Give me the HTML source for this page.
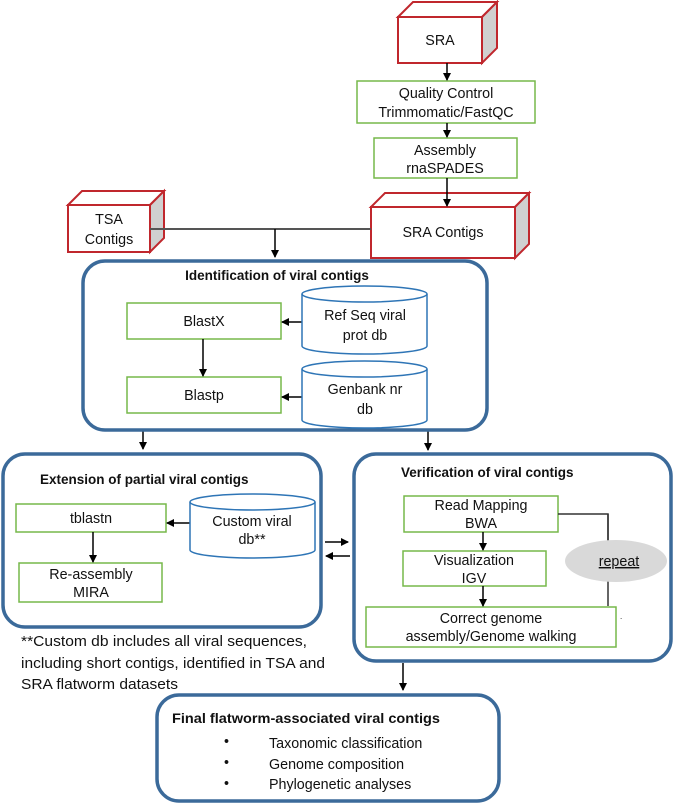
<!DOCTYPE html>
<html><head><meta charset="utf-8"><style>
html,body{margin:0;padding:0;background:#fff}
svg{display:block}
text{font-family:"Liberation Sans",sans-serif;font-size:14.3px;fill:#111}
.b{font-weight:bold;font-size:13.5px}
</style></head><body>
<svg width="675" height="805" viewBox="0 0 675 805" xmlns="http://www.w3.org/2000/svg">
<defs>
<marker id="ah" markerWidth="8" markerHeight="8" refX="7" refY="4" orient="auto" markerUnits="userSpaceOnUse">
<path d="M0,0 L8,4 L0,8 z" fill="#000"/></marker>
</defs>
<g stroke="#c0272d" stroke-width="2" fill="#fff">
<rect x="398" y="17" width="84" height="46"/>
<path d="M398,17 L413,2 L497,2 L482,17 z"/>
<path d="M482,17 L497,2 L497,48 L482,63 z" fill="#d0d0d0"/>
<rect x="68" y="205" width="82" height="47"/>
<path d="M68,205 L82,191 L164,191 L150,205 z"/>
<path d="M150,205 L164,191 L164,238 L150,252 z" fill="#d0d0d0"/>
<rect x="371" y="207" width="144" height="51"/>
<path d="M371,207 L385,193 L529,193 L515,207 z"/>
<path d="M515,207 L529,193 L529,244 L515,258 z" fill="#d0d0d0"/>
</g>
<text x="440" y="45" text-anchor="middle">SRA</text>
<text x="109" y="224" text-anchor="middle">TSA</text>
<text x="109" y="244" text-anchor="middle">Contigs</text>
<text x="443" y="237" text-anchor="middle">SRA Contigs</text>

<g stroke="#77b84a" stroke-width="1.5" fill="#fff">
<rect x="357" y="81" width="178" height="42"/>
<rect x="374" y="138" width="143" height="40"/>
<rect x="127" y="303" width="154" height="36"/>
<rect x="127" y="377" width="154" height="36"/>
<rect x="16" y="504" width="150" height="28"/>
<rect x="19" y="563" width="143" height="39"/>
<rect x="404" y="496" width="154" height="36"/>
<rect x="403" y="551" width="143" height="35"/>
<rect x="366" y="607" width="250" height="40"/>
</g>
<text x="446" y="98" text-anchor="middle">Quality Control</text>
<text x="446" y="117" text-anchor="middle">Trimmomatic/FastQC</text>
<text x="445" y="155" text-anchor="middle">Assembly</text>
<text x="445" y="173" text-anchor="middle">rnaSPADES</text>

<g stroke="#000" stroke-width="1.5" fill="none">
<line x1="447" y1="63" x2="447" y2="80" marker-end="url(#ah)"/>
<line x1="447" y1="123" x2="447" y2="137" marker-end="url(#ah)"/>
<line x1="447" y1="178" x2="447" y2="206" marker-end="url(#ah)"/>
<line x1="150" y1="229" x2="371" y2="229" stroke="#555" stroke-width="2"/>
<line x1="275" y1="229" x2="275" y2="257" marker-end="url(#ah)"/>
<line x1="143" y1="430" x2="143" y2="449" marker-end="url(#ah)"/>
<line x1="428" y1="430" x2="428" y2="450" marker-end="url(#ah)"/>
<line x1="302" y1="322" x2="282" y2="322" marker-end="url(#ah)"/>
<line x1="302" y1="397" x2="282" y2="397" marker-end="url(#ah)"/>
<line x1="203" y1="339" x2="203" y2="376" marker-end="url(#ah)"/>
<line x1="190" y1="523" x2="167" y2="523" marker-end="url(#ah)"/>
<line x1="93" y1="532" x2="93" y2="562" marker-end="url(#ah)"/>
<line x1="325" y1="542" x2="348" y2="542" marker-end="url(#ah)"/>
<line x1="350" y1="556" x2="326" y2="556" marker-end="url(#ah)"/>
<line x1="483" y1="532" x2="483" y2="550" marker-end="url(#ah)"/>
<line x1="483" y1="586" x2="483" y2="606" marker-end="url(#ah)"/>
<polyline points="558,514 608,514 608,606" stroke="#333"/>
<line x1="403" y1="663" x2="403" y2="690" marker-end="url(#ah)"/>
</g>

<g stroke="#3b6a9a" stroke-width="3.5" fill="none">
<rect x="83" y="261" width="404" height="169" rx="22"/>
<rect x="3" y="454" width="318" height="173" rx="22"/>
<rect x="354" y="454" width="317" height="207" rx="22"/>
<rect x="157" y="695" width="342" height="106" rx="22"/>
</g>

<g stroke="#2e75b6" stroke-width="1.5" fill="#fff">
<path d="M302,294 A62.5,8 0 0 1 427,294 L427,346 A62.5,8 0 0 1 302,346 z"/>
<path d="M302,294 A62.5,8 0 0 0 427,294" fill="none"/>
<path d="M302,369 A62.5,8 0 0 1 427,369 L427,420 A62.5,8 0 0 1 302,420 z"/>
<path d="M302,369 A62.5,8 0 0 0 427,369" fill="none"/>
<path d="M190,502 A62.5,8 0 0 1 315,502 L315,550 A62.5,8 0 0 1 190,550 z"/>
<path d="M190,502 A62.5,8 0 0 0 315,502" fill="none"/>
</g>
<ellipse cx="616" cy="561" rx="51" ry="21" fill="#d9d9d9"/>
<line x1="608" y1="514" x2="608" y2="540" stroke="#333" stroke-width="1.5"/>

<text x="277" y="280" text-anchor="middle" class="b">Identification of viral contigs</text>
<text x="204" y="326" text-anchor="middle">BlastX</text>
<text x="204" y="400" text-anchor="middle">Blastp</text>
<text x="365" y="320" text-anchor="middle">Ref Seq viral</text>
<text x="365" y="340" text-anchor="middle">prot db</text>
<text x="365" y="394" text-anchor="middle">Genbank nr</text>
<text x="365" y="414" text-anchor="middle">db</text>

<text x="40" y="484" class="b">Extension of partial viral contigs</text>
<text x="91" y="523" text-anchor="middle">tblastn</text>
<text x="91" y="579" text-anchor="middle">Re-assembly</text>
<text x="91" y="597" text-anchor="middle">MIRA</text>
<text x="252" y="526" text-anchor="middle">Custom viral</text>
<text x="252" y="544" text-anchor="middle">db**</text>

<text x="401" y="477" class="b">Verification of viral contigs</text>
<text x="481" y="510" text-anchor="middle">Read Mapping</text>
<text x="481" y="528" text-anchor="middle">BWA</text>
<text x="474" y="565" text-anchor="middle">Visualization</text>
<text x="474" y="583" text-anchor="middle">IGV</text>
<text x="491" y="623" text-anchor="middle">Correct genome</text>
<text x="491" y="641" text-anchor="middle">assembly/Genome walking</text>
<text x="619" y="566" text-anchor="middle" text-decoration="underline">repeat</text>
<text x="620" y="619" style="font-size:8px">.</text>

<text x="21" y="646" textLength="286" lengthAdjust="spacingAndGlyphs">**Custom db includes all viral sequences,</text>
<text x="21" y="668" textLength="304" lengthAdjust="spacingAndGlyphs">including short contigs, identified in TSA and</text>
<text x="21" y="689" textLength="157" lengthAdjust="spacingAndGlyphs">SRA flatworm datasets</text>

<text x="172" y="723" class="b" textLength="268" lengthAdjust="spacingAndGlyphs">Final flatworm-associated viral contigs</text>
<text x="224" y="746">•</text>
<text x="224" y="767">•</text>
<text x="224" y="788">•</text>
<text x="269" y="748">Taxonomic classification</text>
<text x="269" y="769">Genome composition</text>
<text x="269" y="789">Phylogenetic analyses</text>
</svg>
</body></html>
